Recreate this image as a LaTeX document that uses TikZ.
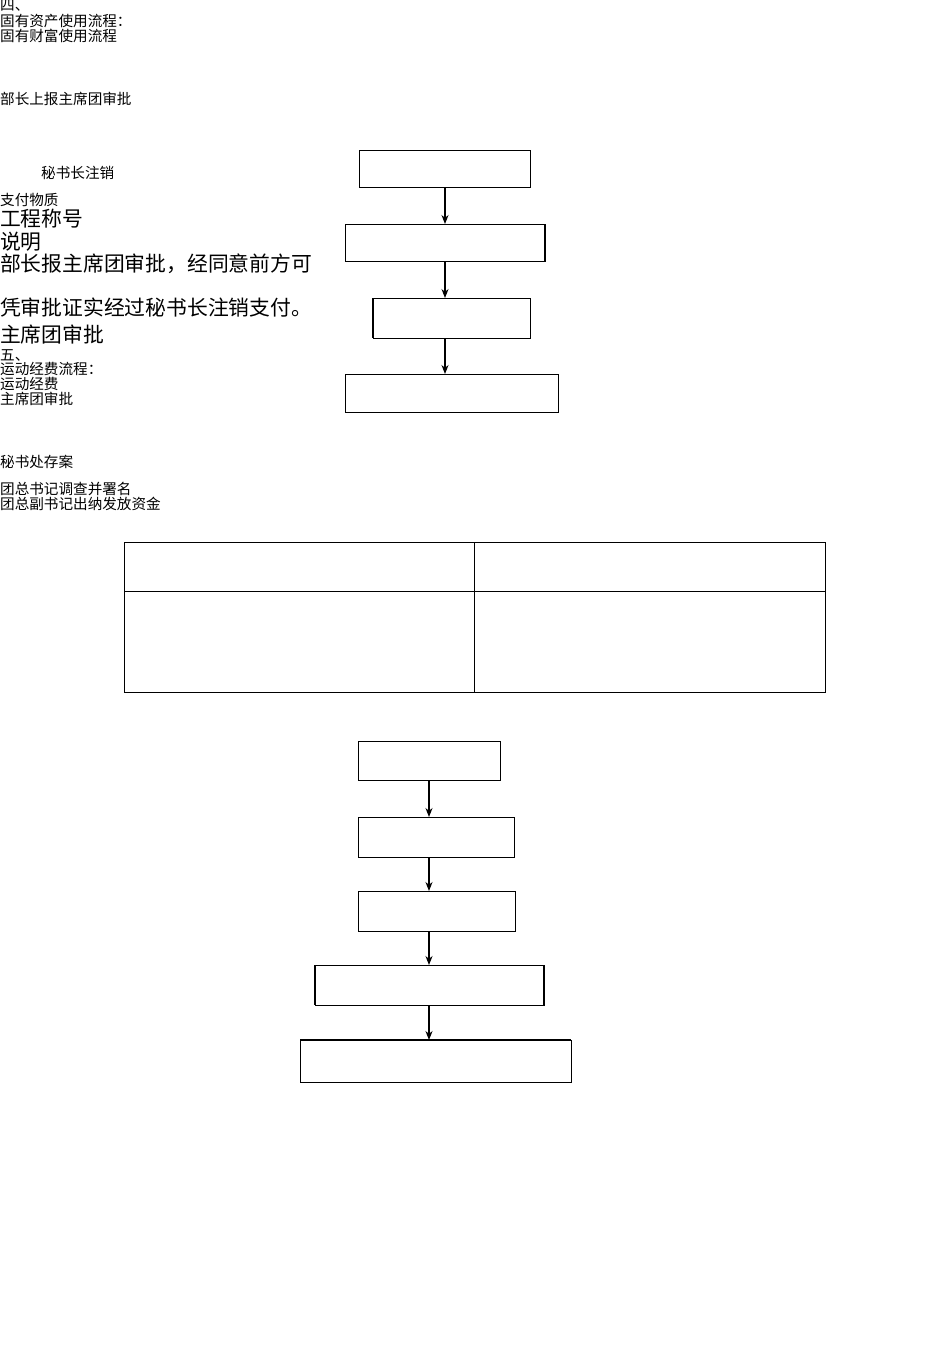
\documentclass[tikz,border=0pt]{standalone}
\usepackage{fontspec}
\setmainfont{Noto Sans CJK SC}
\usetikzlibrary{arrows.meta}
\begin{document}
\begin{tikzpicture}[x=1pt,y=-1pt,
  sm/.style={anchor=west,inner sep=0pt,font=\fontsize{14.6}{14.6}\selectfont},
  lg/.style={anchor=west,inner sep=0pt,font=\fontsize{20.8}{20.8}\selectfont},
  bx/.style={draw,line width=0.8pt},
  arr/.style={-{Stealth[length=9pt,width=7pt]},line width=1.1pt}]
\useasboundingbox (0,0) rectangle (950,1345);
\node[sm] (t1) at (0,5) {四、};
\node[sm] (t2) at (0,21) {固有资产使用流程：};
\node[sm] (t3) at (0,36) {固有财富使用流程};
\node[sm] (t4) at (0,99) {部长上报主席团审批};
\node[sm] (t5) at (41,173) {秘书长注销};
\node[sm] (t6) at (0,200) {支付物质};
\node[lg] (t7) at (0,219) {工程称号};
\node[lg] (t8) at (0,242) {说明};
\node[lg] (t9) at (0,264) {部长报主席团审批，经同意前方可};
\node[lg] (t10) at (0,308) {凭审批证实经过秘书长注销支付。};
\node[lg] (t11) at (0,335) {主席团审批};
\node[sm] (t12) at (0,355) {五、};
\node[sm] (t13) at (0,369) {运动经费流程：};
\node[sm] (t14) at (0,384) {运动经费};
\node[sm] (t15) at (0,399) {主席团审批};
\node[sm] (t16) at (0,462) {秘书处存案};
\node[sm] (t17) at (0,489) {团总书记调查并署名};
\node[sm] (t18) at (0,504) {团总副书记出纳发放资金};
% flow 1
\draw[bx] (359,150) rectangle (530,187);
\draw[bx] (345,224) rectangle (545,261);
\draw[line width=1.6pt] (545,224) -- (545,261);
\draw[bx] (373,298) rectangle (530,338);
\draw[line width=1.6pt] (373,298) -- (373,338);
\draw[bx] (345,374) rectangle (558,412);
\coordinate (a1) at (445,187); \coordinate (a2) at (445,224);
\coordinate (a3) at (445,261); \coordinate (a4) at (445,298);
\coordinate (a5) at (445,338); \coordinate (a6) at (445,374);
\draw[arr] (a1) -- (a2); \draw[arr] (a3) -- (a4); \draw[arr] (a5) -- (a6);
% table
\draw[bx] (124,542) rectangle (825,692);
\draw[bx] (474,542) -- (474,692);
\draw[bx] (124,591) -- (825,591);
% flow 2
\draw[bx] (358,741) rectangle (500,780);
\draw[bx] (358,817) rectangle (514,857);
\draw[bx] (358,891) rectangle (515,931);
\draw[bx] (315,965) rectangle (544,1005);
\draw[line width=1.6pt] (315,965) -- (315,1005) (544,965) -- (544,1005);
\draw[bx] (300,1040) rectangle (571,1082);
\draw[line width=1.6pt] (300,1040) -- (571,1040);
\coordinate (b1) at (429,780); \coordinate (b2) at (429,817);
\coordinate (b3) at (429,857); \coordinate (b4) at (429,891);
\coordinate (b5) at (429,931); \coordinate (b6) at (429,965);
\coordinate (b7) at (429,1005); \coordinate (b8) at (429,1040);
\draw[arr] (b1) -- (b2); \draw[arr] (b3) -- (b4); \draw[arr] (b5) -- (b6); \draw[arr] (b7) -- (b8);
\end{tikzpicture}
\end{document}
